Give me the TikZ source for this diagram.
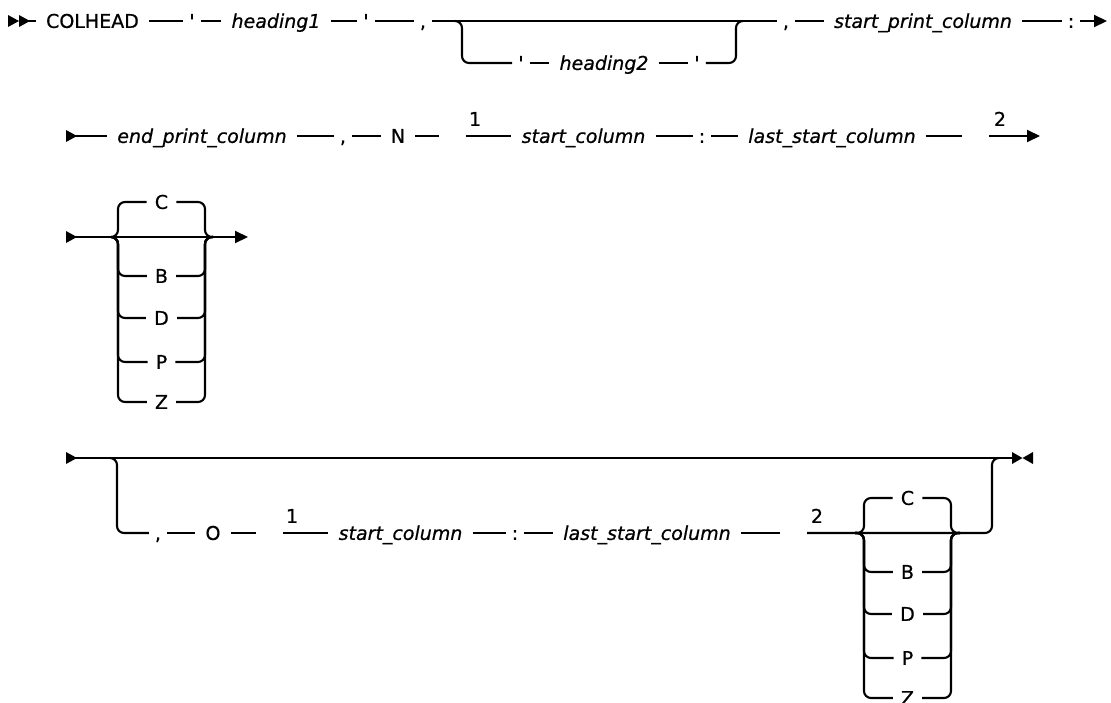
\documentclass[tikz,border=0pt]{standalone}
\usepackage{fontspec}
\newfontfamily\rr[FakeBold=0.7]{DejaVu Sans}
\usetikzlibrary{arrows.meta}
\begin{document}
\begin{tikzpicture}[x=1pt,y=-1pt,
  ln/.style={line width=2.1pt},
  br/.style={ln, rounded corners=7pt},
  arr/.style={ln, -{Triangle[length=13pt,width=12pt]}},
  wd/.style={inner xsep=10pt, inner ysep=0pt, text height=13.8pt, text depth=0pt, font=\rr\fontsize{19}{20}\selectfont},
  iw/.style={wd, font=\rr\itshape\fontsize{19}{20}\selectfont},
  pu/.style={wd, inner xsep=6pt},
  lt/.style={wd, inner xsep=8pt},
  fn/.style={wd, inner xsep=0pt},
]
\useasboundingbox (0,0) rectangle (1111,702);

% ---------------- Row 1 ----------------
\fill (8,15) -- (19,21) -- (8,27) -- cycle;
\fill (19,15) -- (30,21) -- (19,27) -- cycle;
\coordinate (s1) at (19,21);
\node[wd] (colhead) at (92.5,21) {COLHEAD};
\node[pu] (q1) at (192,21) {'};
\node[iw] (h1) at (276,21) {heading1};
\node[pu] (q2) at (366,21) {'};
\node[pu] (c1) at (423,21) {,};
\node[pu] (q3) at (521,63) {'};
\node[iw] (h2) at (604,63) {heading2};
\node[pu] (q4) at (697,63) {'};
\node[pu] (c2) at (786,21) {,};
\node[iw] (spc) at (923,21) {start\_print\_column};
\node[pu] (col1) at (1071,21) {:};
\coordinate (e1) at (1107,21);
\coordinate (b1l) at (462,21);
\coordinate (b1r) at (736,21);

\draw[ln] (s1) -- (colhead.west);
\draw[ln] (colhead.east) -- (q1.west);
\draw[ln] (q1.east) -- (h1.west);
\draw[ln] (h1.east) -- (q2.west);
\draw[ln] (q2.east) -- (c1.west);
\draw[ln] (c1.east) -- (c2.west);
\draw[br] ([xshift=-7pt]b1l) -- (b1l) |- (q3.west);
\draw[ln] (q3.east) -- (h2.west);
\draw[ln] (h2.east) -- (q4.west);
\draw[br] (q4.east) -| (b1r) -- ([xshift=7pt]b1r);
\draw[ln] (c2.east) -- (spc.west);
\draw[ln] (spc.east) -- (col1.west);
\draw[arr] (col1.east) -- (e1);

% ---------------- Row 2 ----------------
\fill (66,130) -- (77,136) -- (66,142) -- cycle;
\coordinate (s2) at (70,136);
\node[iw] (epc) at (202,136) {end\_print\_column};
\node[pu] (c3) at (343,136) {,};
\node[wd] (nN) at (398,136) {N};
\coordinate (g1) at (439,136);
\coordinate (f1) at (466,136);
\node[fn] (n1a) at (475,119) {1};
\node[iw] (sc1) at (583.5,136) {start\_column};
\node[pu] (col2) at (702,136) {:};
\node[iw] (lsc1) at (832,136) {last\_start\_column};
\coordinate (g2) at (962,136);
\coordinate (f2) at (989,136);
\node[fn] (n2a) at (1000,119) {2};
\coordinate (e2) at (1040,136);

\draw[ln] (s2) -- (epc.west);
\draw[ln] (epc.east) -- (c3.west);
\draw[ln] (c3.east) -- (nN.west);
\draw[ln] (nN.east) -- (g1);
\draw[ln] (f1) -- (sc1.west);
\draw[ln] (sc1.east) -- (col2.west);
\draw[ln] (col2.east) -- (lsc1.west);
\draw[ln] (lsc1.east) -- (g2);
\draw[arr] (f2) -- (e2);

% ---------------- Row 3 ----------------
\fill (66,231) -- (77,237) -- (66,243) -- cycle;
\coordinate (s3) at (70,237);
\coordinate (e3) at (248,237);
\coordinate (jl3) at (111,237);
\coordinate (jr3) at (213,237);
\draw[arr] (s3) -- (e3);
\node[lt] (k3c) at (161.5,202) {C};
\node[lt] (k3b) at (161.5,276) {B};
\node[lt] (k3d) at (161.5,318) {D};
\node[lt] (k3p) at (161.5,362) {P};
\node[lt] (k3z) at (161.5,402) {Z};
\foreach \k in {k3c,k3b,k3d,k3p,k3z}{
  \draw[br] (jl3) -- ++(7,0) |- (\k.west);
  \draw[br] (\k.east) -| ([xshift=-8pt]jr3) -- (jr3);
}

% ---------------- Row 4 ----------------
\fill (66,452) -- (77,458) -- (66,464) -- cycle;
\coordinate (s4) at (70,458);
\coordinate (e4) at (1012,458);
\draw[ln] (s4) -- (e4);
\fill (1012,452) -- (1022.5,458) -- (1012,464) -- cycle;
\fill (1033,452) -- (1022.5,458) -- (1033,464) -- cycle;
\coordinate (jl4) at (110,458);
\node[pu] (c4) at (158,533) {,};
\node[wd] (nO) at (213,533) {O};
\coordinate (g3) at (256,533);
\coordinate (f3) at (283,533);
\node[fn] (n1b) at (292,516) {1};
\node[iw] (sc2) at (400.5,533) {start\_column};
\node[pu] (col3) at (515,533) {:};
\node[iw] (lsc2) at (647,533) {last\_start\_column};
\coordinate (g4) at (780,533);
\coordinate (f4) at (807,533);
\node[fn] (n2b) at (817,516) {2};
\coordinate (jl5) at (855,533);
\coordinate (jr5) at (960,533);
\coordinate (u4) at (992,458);

\draw[br] (jl4) -- ++(7,0) |- (c4.west);
\draw[ln] (c4.east) -- (nO.west);
\draw[ln] (nO.east) -- (g3);
\draw[ln] (f3) -- (sc2.west);
\draw[ln] (sc2.east) -- (col3.west);
\draw[ln] (col3.east) -- (lsc2.west);
\draw[ln] (lsc2.east) -- (g4);
\draw[br] (f4) -- (u4 |- jr5) -- (u4) -- ++(7,0);

\node[lt] (k5c) at (907.5,498) {C};
\node[lt] (k5b) at (907.5,572) {B};
\node[lt] (k5d) at (907.5,614) {D};
\node[lt] (k5p) at (907.5,658) {P};
\node[lt] (k5z) at (907.5,698) {Z};
\foreach \k in {k5c,k5b,k5d,k5p,k5z}{
  \draw[br] (jl5) -- ++(9,0) |- (\k.west);
  \draw[br] (\k.east) -| ([xshift=-9pt]jr5) -- (jr5);
}
\end{tikzpicture}
\end{document}
